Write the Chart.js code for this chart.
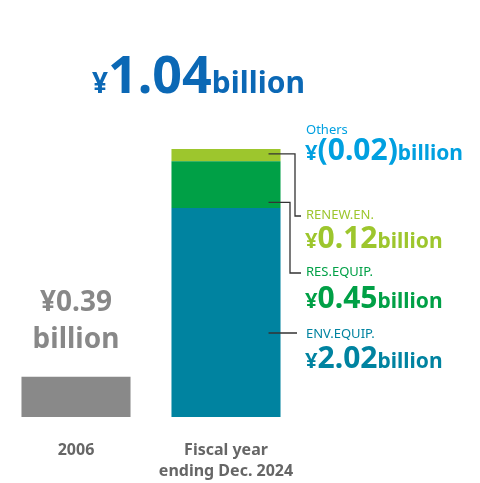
<!DOCTYPE html>
<html>
<head>
<meta charset="utf-8">
<script src="https://cdn.jsdelivr.net/npm/chart.js@4"></script>
<style>
  html, body { margin: 0; padding: 0; background: #fff; }
  #wrap { width: 480px; height: 483px; }
</style>
</head>
<body>
<div id="wrap"><canvas id="chart"></canvas></div>
<script>
// values in billions of yen
const categories = ['2006', 'Fiscal year ending Dec. 2024'];
const total2006 = [0.39, null];
const envEquip = [null, 2.02];
const resEquip = [null, 0.45];
const renewEn = [null, 0.12];
const others = [null, -0.02];   // shown as a label only, too thin to see
const headline = 1.04;

const FONT = '"Noto Sans", sans-serif';

// mixed-size "¥ number billion" text, left aligned at x
function money(ctx, x, y, parts, color) {
    ctx.fillStyle = color;
    ctx.textBaseline = 'alphabetic';
    ctx.textAlign = 'left';
    for (const [txt, size] of parts) {
        ctx.font = `bold ${size}px ${FONT}`;
        ctx.fillText(txt, x, y);
        x += ctx.measureText(txt).width;
    }
    return x;
}

const annotations = {
    id: 'annotations',
    afterDatasetsDraw(chart) {
        const { ctx } = chart;
        const x = chart.scales.x;
        const y = chart.scales.y;
        const meta = chart.getDatasetMeta(1);
        const bar = meta.data[1];
        const right = bar.x + bar.width / 2;
        const inner = right - 12;
        ctx.save();

        // headline
        money(ctx, 92, 93, [['¥', 28], [headline.toFixed(2), 52], ['billion', 30]], '#0b68b5');

        // 2006 label above bar
        const b0 = chart.getDatasetMeta(0).data[0];
        ctx.fillStyle = '#888';
        ctx.textAlign = 'center';
        ctx.font = `bold 28px ${FONT}`;
        ctx.fillText('¥' + total2006[0].toFixed(2), b0.x, 311);
        ctx.fillText('billion', b0.x, 348);

        // x labels
        ctx.fillStyle = '#666';
        ctx.font = `bold 16px ${FONT}`;
        ctx.fillText('2006', x.getPixelForValue(0), 455);
        ctx.fillText('Fiscal year', x.getPixelForValue(1), 455);
        ctx.fillText('ending Dec. 2024', x.getPixelForValue(1), 476);

        // leader lines
        const yTopRenew = y.getPixelForValue(envEquip[1] + resEquip[1] + renewEn[1]);
        const yTopRes = y.getPixelForValue(envEquip[1] + resEquip[1]);
        ctx.strokeStyle = '#333';
        ctx.lineWidth = 1.3;
        ctx.beginPath();
        ctx.moveTo(inner, yTopRenew + 5); ctx.lineTo(295, yTopRenew + 5); ctx.lineTo(295, 216); ctx.lineTo(301, 216);
        ctx.moveTo(inner, yTopRes + 41); ctx.lineTo(290, yTopRes + 41); ctx.lineTo(290, 273); ctx.lineTo(301, 273);
        ctx.moveTo(inner, 333); ctx.lineTo(297, 333);
        ctx.stroke();

        // series labels
        const rows = [
            ['Others', 134, 160, '#00a0e0', ['(' + Math.abs(others[1]).toFixed(2) + ')'], true],
            ['RENEW.EN.', 219, 248, '#9dc62d', [renewEn[1].toFixed(2)]],
            ['RES.EQUIP.', 276, 308, '#00a046', [resEquip[1].toFixed(2)]],
            ['ENV.EQUIP.', 338, 368, '#0083a0', [envEquip[1].toFixed(2)]],
        ];
        for (const [name, ny, vy, col, num] of rows) {
            ctx.fillStyle = col;
            ctx.textAlign = 'left';
            ctx.font = `13px ${FONT}`;
            ctx.fillText(name, 306, ny);
            money(ctx, 305, vy, [['¥', 22], [num[0], 30], ['billion', 21]], col);
        }
        ctx.restore();
    },
};

new Chart(document.getElementById('chart'), {
    type: 'bar',
    data: {
        labels: categories,
        datasets: [
            { label: '2006', data: total2006, backgroundColor: '#898989' },
            { label: 'ENV.EQUIP.', data: envEquip, backgroundColor: '#0083a0' },
            { label: 'RES.EQUIP.', data: resEquip, backgroundColor: '#00a046' },
            { label: 'RENEW.EN.', data: renewEn, backgroundColor: '#9dc62d' },
        ],
    },
    options: {
        responsive: true,
        maintainAspectRatio: false,
        animation: false,
        layout: { padding: { top: 3, bottom: 66, left: 1, right: 179 } },
        datasets: { bar: { barPercentage: 0.727, categoryPercentage: 1, borderWidth: 0 } },
        plugins: { legend: { display: false }, tooltip: { enabled: false } },
        scales: {
            x: { stacked: true, display: false },
            y: { stacked: true, display: false, min: 0, max: 4.0 },
        },
    },
    plugins: [annotations],
});
</script>
</body>
</html>
